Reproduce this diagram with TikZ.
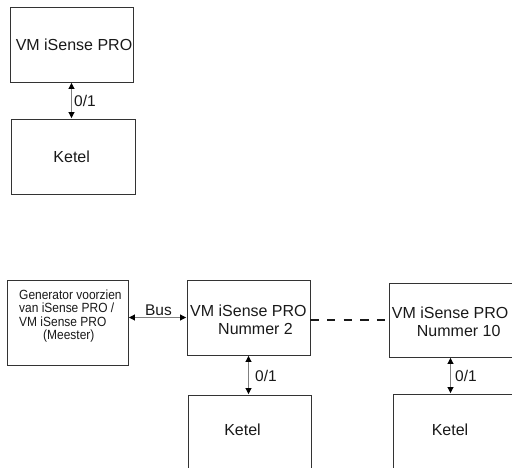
\documentclass[tikz,border=0pt]{standalone}
\usepackage{fontspec}
\setmainfont{Liberation Sans}
\newfontfamily\condfont[FakeStretch=0.9]{Liberation Sans}
\usetikzlibrary{arrows.meta,calc}
\begin{document}
\begin{tikzpicture}[x=1pt,y=-1pt,
  box/.style={draw=black!80,line width=0.9pt,inner sep=0pt},
  txt/.style={inner sep=0pt,font=\fontsize{16}{18}\selectfont,text=black!90},
  link/.style={draw=black!50,line width=0.9pt,shorten <=0.5pt,shorten >=0.5pt,
    {Triangle[length=6pt,width=6pt,fill=black,color=black]}-{Triangle[length=6pt,width=6pt,fill=black,color=black]}},
  lab/.style={inner sep=0pt,anchor=west,font=\fontsize{15.5}{18}\selectfont,text=black!90},
  dashlink/.style={draw=black!90,line width=2.6pt,dash pattern=on 8.3pt off 8.3pt}]
\clip (0,0) rectangle (512,468);
% top pair
\node[box,minimum width=123pt,minimum height=75pt] (vm1) at (71.5,44.5) {};
\node[txt] (vm1t) at (74,44.5) {VM iSense PRO};
\node[box,minimum width=124pt,minimum height=75pt] (k1) at (73,156.5) {};
\node[txt] (k1t) at (71.7,157) {Ketel};
\draw[link] (vm1.south) -- (vm1.south |- k1.north);
\node[lab] (l1) at (74,100.5) {0/1};
% generator
\node[box,minimum width=121pt,minimum height=85pt] (gen) at (67.5,322.5) {};
\node[inner sep=0pt,anchor=north west,align=left,text=black!90,
  font=\condfont\fontsize{13.3}{13.4}\selectfont] (gent) at (19,289.5)
  {Generator voorzien\\van iSense PRO /\\VM iSense PRO\\\hspace*{24pt}(Meester)};
% VM 2
\node[box,minimum width=123pt,minimum height=75pt] (vm2) at (248.5,317.5) {};
\node[txt,anchor=west,align=left] (vm2t) at (190,319.5) {VM iSense PRO\\\hspace*{28pt}Nummer 2};
% VM 10
\node[box,minimum width=123pt,minimum height=74pt] (vm10) at (450.5,320) {};
\node[txt,anchor=west,align=left] (vm10t) at (391.7,321.5) {VM iSense PRO\\\hspace*{25pt}Nummer 10};
% bottom ketels
\node[box,minimum width=123pt,minimum height=100pt] (k2) at (249.5,445) {};
\node[txt] (k2t) at (242.5,430) {Ketel};
\node[box,minimum width=130pt,minimum height=100pt] (k3) at (458,444) {};
\node[txt] (k3t) at (450,430) {Ketel};
% connectors
\draw[link] (gen.east |- vm2.west) -- (vm2.west);
\node[txt,font=\fontsize{15.5}{18}\selectfont] (bus) at (158.5,310) {Bus};
\draw[dashlink] (vm2.east |- vm10.west) -- (vm10.west);
\draw[link] (vm2.south) -- (vm2.south |- k2.north);
\node[lab] (l2) at (255,376) {0/1};
\draw[link] (vm10.south) -- (vm10.south |- k3.north);
\node[lab] (l3) at (455,376) {0/1};
\end{tikzpicture}
\end{document}
